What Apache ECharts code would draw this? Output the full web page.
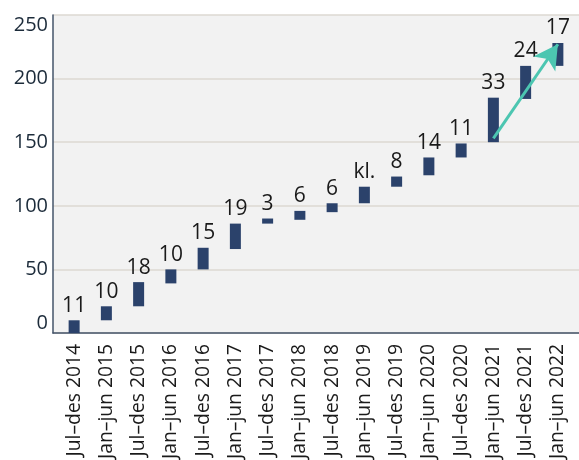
<!DOCTYPE html>
<html>
<head>
<meta charset="utf-8">
<script src="https://cdn.jsdelivr.net/npm/echarts@6/dist/echarts.min.js"></script>
<style>
  html, body { margin: 0; padding: 0; background: #fff; }
  #chart { width: 579px; height: 460px; }
</style>
</head>
<body>
<div id="chart"></div>
<script>
// periods on x axis
var periods = ['Jul\u2013des 2014', 'Jan\u2013jun 2015', 'Jul\u2013des 2015', 'Jan\u2013jun 2016',
  'Jul\u2013des 2016', 'Jan\u2013jun 2017', 'Jul\u2013des 2017', 'Jan\u2013jun 2018',
  'Jul\u2013des 2018', 'Jan\u2013jun 2019', 'Jul\u2013des 2019', 'Jan\u2013jun 2020',
  'Jul\u2013des 2020', 'Jan\u2013jun 2021', 'Jul\u2013des 2021', 'Jan\u2013jun 2022'];
// floating bars: bottom and top of each step
var lower = [0, 10, 21, 39, 50, 66, 86, 89, 95, 102, 115, 124, 138, 150, 184, 210];
var upper = [10, 21, 40, 50, 67, 86, 90, 96, 102, 115, 123, 138, 149, 185, 210, 228];
var stepLabels = ['11', '10', '18', '10', '15', '19', '3', '6', '6', 'kl.', '8', '14', '11', '33', '24', '17'];
// trend arrow: [category index, value]
var arrowFrom = [13, 153];
var arrowTo = [15, 227];
var yTicks = [0, 50, 100, 150, 200, 250];

var font = 'Open Sans';
var chart = echarts.init(document.getElementById('chart'), null, { renderer: 'canvas' });

var diff = upper.map(function (v, i) { return v - lower[i]; });

chart.setOption({
  animation: false,
  textStyle: { fontFamily: font },
  grid: [
    { left: 53, right: 0, top: 15, bottom: 127, outerBoundsMode: 'none', containLabel: false,
      show: true, backgroundColor: '#f2f2f2', borderWidth: 0 },
    { left: 58, right: 5, top: 15, bottom: 127, outerBoundsMode: 'none', containLabel: false }
  ],
  xAxis: [
    {
      gridIndex: 0, type: 'category', data: periods,
      axisLine: { show: true, lineStyle: { color: '#44546a', width: 1.5 } },
      axisTick: { show: false }, axisLabel: { show: false }, splitLine: { show: false }
    },
    {
      gridIndex: 1, type: 'category', data: periods,
      axisLine: { show: false }, axisTick: { show: false },
      axisLabel: { rotate: 90, margin: 11, fontSize: 19.3, color: '#1a1a1a', fontFamily: font }
    }
  ],
  yAxis: [
    {
      gridIndex: 0, type: 'value', min: yTicks[0], max: yTicks[yTicks.length - 1], interval: 50,
      axisLine: { show: true, lineStyle: { color: '#44546a', width: 1.5 } },
      axisTick: { show: false },
      axisLabel: { fontSize: 20, color: '#1c2b3a', margin: 5, fontFamily: font,
        verticalAlignMinLabel: 'bottom', verticalAlignMaxLabel: 'top' },
      splitLine: { show: true, lineStyle: { color: '#ddd8d2', width: 1.5 } }
    },
    {
      gridIndex: 1, type: 'value', min: yTicks[0], max: yTicks[yTicks.length - 1], interval: 50,
      show: false, splitLine: { show: false }
    }
  ],
  series: [
    {
      type: 'bar', xAxisIndex: 1, yAxisIndex: 1, stack: 'w',
      data: lower, barWidth: 11,
      itemStyle: { color: 'transparent' }, silent: true
    },
    {
      type: 'bar', xAxisIndex: 1, yAxisIndex: 1, stack: 'w',
      data: diff, barWidth: 11,
      itemStyle: { color: '#2b426b' },
      label: {
        show: true, position: 'top', distance: 4, fontSize: 21, color: '#1a1a1a', fontFamily: font,
        formatter: function (p) { return stepLabels[p.dataIndex]; }
      },
      markLine: {
        silent: true,
        symbol: ['none', 'arrow'],
        symbolSize: [20, 24],
        label: { show: false },
        lineStyle: { color: '#4cc6b1', width: 3, type: 'solid' },
        data: [[{ coord: arrowFrom }, { coord: arrowTo }]]
      }
    }
  ]
});
</script>
</body>
</html>
